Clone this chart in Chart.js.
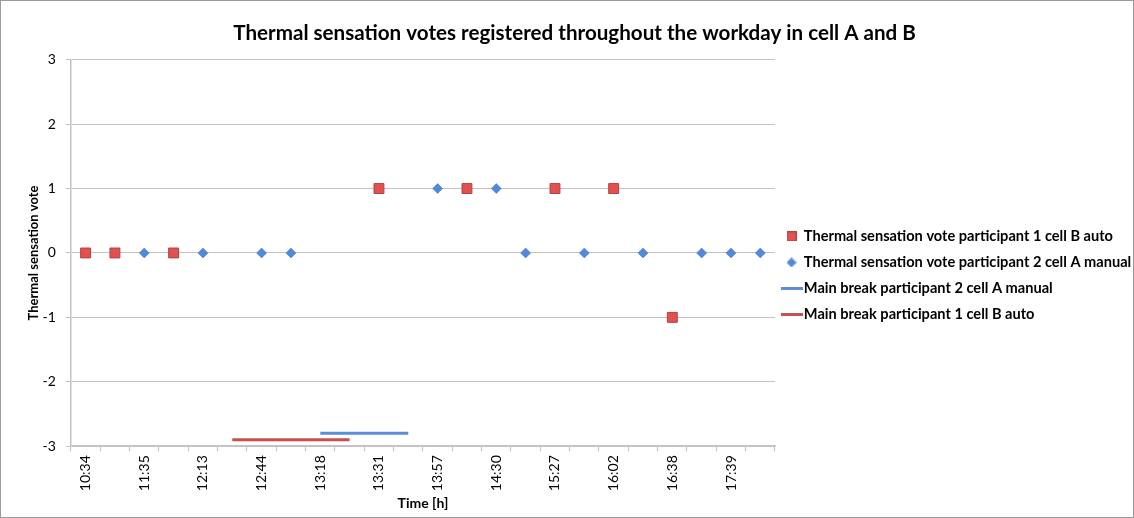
<!DOCTYPE html>
<html>
<head>
<meta charset="utf-8">
<script src="https://cdn.jsdelivr.net/npm/chart.js@4/dist/chart.umd.min.js"></script>
<style>
  html, body { margin: 0; padding: 0; background: #fff; }
  #wrap { position: relative; width: 1132px; height: 516px; border: 1px solid #9a9a9a; }
</style>
</head>
<body>
<div id="wrap"><canvas id="votesChart"></canvas></div>
<script>
// categories on the time axis (only every other label is printed in the original)
const timeLabels = ['10:34', '', '11:35', '', '12:13', '', '12:44', '', '13:18', '', '13:31', '',
                    '13:57', '', '14:30', '', '15:27', '', '16:02', '', '16:38', '', '17:39', ''];

const votesP1CellB = [0, 0, null, 0, null, null, null, null, null, null, 1, null,
                      null, 1, null, null, 1, null, 1, null, -1, null, null, null];
const votesP2CellA = [null, null, 0, null, 0, null, 0, 0, null, null, null, null,
                      1, null, 1, 0, null, 0, null, 0, null, 0, 0, 0];

const breakP2CellA = [null, null, null, null, null, null, null, null, -2.8, -2.8, -2.8, -2.8,
                      null, null, null, null, null, null, null, null, null, null, null, null];
const breakP1CellB = [null, null, null, null, null, -2.9, -2.9, -2.9, -2.9, -2.9, null, null,
                      null, null, null, null, null, null, null, null, null, null, null, null];

const yTicks = [-3, -2, -1, 0, 1, 2, 3];

const FONT = 'Lato, "Open Sans", sans-serif';
const RED = '#e05252', RED_EDGE = '#b9403e', RED_LINE = '#c9504d';
const BLUE = '#5289dc', BLUE_EDGE = '#3f72c0', BLUE_LINE = '#5a8ed8';
const GRID = '#c3c3c3';

// small legend icons
function icon(kind, fill, edge) {
    const c = document.createElement('canvas');
    const g = c.getContext('2d');
    if (kind === 'line') {
        c.width = 22; c.height = 3;
        g.fillStyle = fill; g.fillRect(0, 0, 22, 3);
    } else if (kind === 'square') {
        c.width = 10; c.height = 10;
        g.fillStyle = fill; g.fillRect(0, 0, 10, 10);
        g.strokeStyle = edge; g.strokeRect(0.5, 0.5, 9, 9);
    } else {
        c.width = 10; c.height = 10;
        g.fillStyle = fill;
        g.beginPath(); g.moveTo(5, 0); g.lineTo(10, 5); g.lineTo(5, 10); g.lineTo(0, 5); g.closePath(); g.fill();
    }
    return c;
}
const legendIcons = [icon('square', RED, RED_EDGE), icon('diamond', BLUE), icon('line', BLUE_LINE), icon('line', RED_LINE)];

// legend wider than chart.js allows by default, and a bit lower
const wideLegend = {
    id: 'wideLegend',
    beforeInit(chart) {
        const legend = chart.legend;
        const fit = legend.fit;
        legend.fit = function () {
            fit.call(this);
            this.width = 358;
        };
        const draw = legend.draw;
        legend.draw = function () {
            this.ctx.save();
            this.ctx.translate(0, 19);
            draw.call(this);
            this.ctx.restore();
        };
    }
};

const ctx = document.getElementById('votesChart').getContext('2d');

new Chart(ctx, {
    type: 'line',
    plugins: [wideLegend],
    data: {
        labels: timeLabels,
        datasets: [
            {
                label: 'Thermal sensation vote participant 1 cell B auto',
                data: votesP1CellB,
                showLine: false,
                pointStyle: 'rect',
                pointRadius: 7,
                backgroundColor: RED,
                borderColor: RED_EDGE,
                borderWidth: 1,
            },
            {
                label: 'Thermal sensation vote participant 2 cell A manual',
                data: votesP2CellA,
                showLine: false,
                pointStyle: 'rectRot',
                pointRadius: 5,
                backgroundColor: BLUE,
                borderColor: BLUE_EDGE,
                borderWidth: 0.5,
            },
            {
                label: 'Main break participant 2 cell A manual',
                data: breakP2CellA,
                borderColor: BLUE_LINE,
                backgroundColor: BLUE_LINE,
                borderWidth: 3,
                pointRadius: 0,
                spanGaps: false,
            },
            {
                label: 'Main break participant 1 cell B auto',
                data: breakP1CellB,
                borderColor: RED_LINE,
                backgroundColor: RED_LINE,
                borderWidth: 3,
                pointRadius: 0,
                spanGaps: false,
            },
        ]
    },
    options: {
        responsive: true,
        maintainAspectRatio: false,
        animation: false,
        layout: { padding: { left: 15, right: 0, top: 0, bottom: 5 } },
        plugins: {
            title: {
                display: true,
                text: 'Thermal sensation votes registered throughout the workday in cell A and B',
                color: '#000',
                font: { family: FONT, size: 20.6, weight: 'bold' },
                padding: { top: 20, bottom: 14 },
            },
            legend: {
                position: 'right',
                align: 'center',
                labels: {
                    usePointStyle: true,
                    pointStyleWidth: 10,
                    color: '#000',
                    font: { family: FONT, size: 14.6, weight: 'bold' },
                    padding: 11.5,
                    generateLabels: chart => chart.data.datasets.map((ds, i) => ({
                        text: ds.label,
                        pointStyle: legendIcons[i],
                        fillStyle: ds.backgroundColor,
                        strokeStyle: ds.borderColor,
                        lineWidth: 0,
                        fontColor: '#000',
                        datasetIndex: i,
                        hidden: false,
                    })),
                }
            },
            tooltip: { enabled: false },
        },
        scales: {
            x: {
                offset: true,
                grid: { display: true, drawOnChartArea: false, offset: true, tickLength: 5, color: GRID },
                border: { color: GRID, width: 1.5 },
                ticks: {
                    autoSkip: false,
                    maxRotation: 90,
                    minRotation: 90,
                    padding: 4,
                    color: '#000',
                    font: { family: FONT, size: 14 },
                },
                title: {
                    display: true,
                    text: 'Time [h]',
                    color: '#000',
                    font: { family: FONT, size: 14, weight: 'bold' },
                    padding: { top: 0, bottom: 0 },
                }
            },
            y: {
                min: -3,
                max: 3,
                afterBuildTicks: axis => { axis.ticks = yTicks.map(v => ({ value: v })); },
                grid: { color: GRID, tickLength: 5 },
                border: { color: GRID, width: 1.5 },
                ticks: {
                    color: '#000',
                    font: { family: FONT, size: 14 },
                    padding: 10,
                },
                title: {
                    display: true,
                    text: 'Thermal sensation vote',
                    color: '#000',
                    font: { family: FONT, size: 13, weight: 'bold' },
                    padding: { top: 10, bottom: -9 },
                }
            }
        }
    }
});
</script>
</body>
</html>
